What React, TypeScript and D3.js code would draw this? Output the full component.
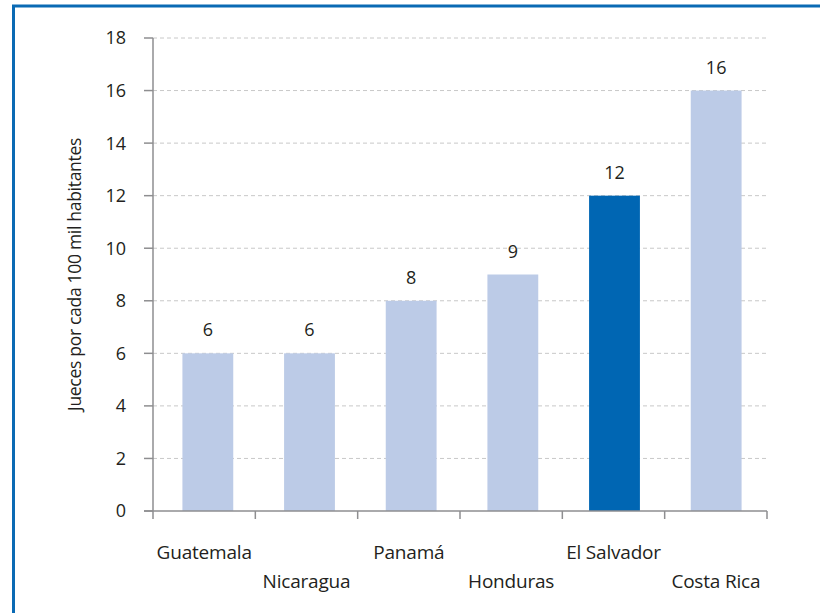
import * as d3 from 'd3';
import React from 'react';

const countries = ['Guatemala', 'Nicaragua', 'Panamá', 'Honduras', 'El Salvador', 'Costa Rica'];
const judges = [6, 6, 8, 9, 12, 16];
const highlight = 'El Salvador';
const yTicks = [0, 2, 4, 6, 8, 10, 12, 14, 16, 18];

export default function App() {
  const width = 820;
  const height = 613;
  const left = 153;
  const right = 767;
  const top = 38;
  const bottom = 511;
  const font = '"Open Sans", "DejaVu Sans", sans-serif';
  const textColor = '#231f20';
  const axisColor = '#8e8e90';

  // bars sit a touch right of the tick bands in the original
  const x = d3.scaleBand<string>().domain(countries).range([left + 4, right]).paddingInner(0.5).paddingOuter(0.25);
  const band = d3.scaleBand<string>().domain(countries).range([left, right]);
  const y = d3.scaleLinear().domain([0, 18]).range([bottom, top]);

  return (
    <svg width={width} height={height} style={{ position: 'absolute', left: 0, top: 0 }}>
      <rect x={0} y={0} width={width} height={height} fill="#fff" />
      {/* frame */}
      <line x1={13.5} x2={13.5} y1={5} y2={height} stroke="#0a6ab4" strokeWidth={3} />
      <line x1={12} x2={width} y1={6} y2={6} stroke="#0a6ab4" strokeWidth={3} />

      {/* grid */}
      {yTicks.filter(t => t > 0).map(t => (
        <line key={'g' + t} x1={left} x2={right} y1={y(t)} y2={y(t)} stroke="#c8c8c8" strokeWidth={1} strokeDasharray="4,3" />
      ))}

      {/* bars */}
      {countries.map((c, i) => (
        <g key={c}>
          <rect
            x={x(c)}
            y={y(judges[i])}
            width={x.bandwidth()}
            height={y(0) - y(judges[i])}
            fill={c === highlight ? '#0066b3' : '#bccbe7'}
          />
          <text
            x={(x(c) as number) + x.bandwidth() / 2}
            y={y(judges[i]) - 17}
            textAnchor="middle"
            fontFamily={font}
            fontSize={18}
            fill={textColor}
          >
            {judges[i]}
          </text>
          <text
            x={(band(c) as number) + band.bandwidth() / 2}
            y={i % 2 === 0 ? 559 : 587.5}
            textAnchor="middle"
            fontFamily={font}
            fontSize={19}
            letterSpacing={-0.2}
            fill={textColor}
          >
            {c}
          </text>
        </g>
      ))}

      {/* y axis */}
      <line x1={left} x2={left} y1={top} y2={bottom} stroke={axisColor} strokeWidth={1.5} />
      {yTicks.map(t => (
        <g key={'t' + t}>
          <line x1={left - 9} x2={left} y1={y(t)} y2={y(t)} stroke={axisColor} strokeWidth={1.5} />
          <text x={left - 27} y={y(t)} dy="0.36em" textAnchor="end" fontFamily={font} fontSize={18} fill={textColor}>
            {t}
          </text>
        </g>
      ))}

      {/* x axis */}
      <line x1={left - 9} x2={right} y1={bottom} y2={bottom} stroke={axisColor} strokeWidth={1.5} />
      {countries.map(c => (
        <line key={'xt' + c} x1={band(c)} x2={band(c)} y1={bottom} y2={bottom + 8} stroke={axisColor} strokeWidth={1.5} />
      ))}
      <line x1={right} x2={right} y1={bottom} y2={bottom + 8} stroke={axisColor} strokeWidth={1.5} />

      <text
        transform={`translate(75,${(top + bottom) / 2}) rotate(-90)`}
        textAnchor="middle"
        dy="0.35em"
        fontFamily={font}
        fontSize={17.5}
        letterSpacing={-0.3}
        fill={textColor}
      >
        Jueces por cada 100 mil habitantes
      </text>
    </svg>
  );
}
